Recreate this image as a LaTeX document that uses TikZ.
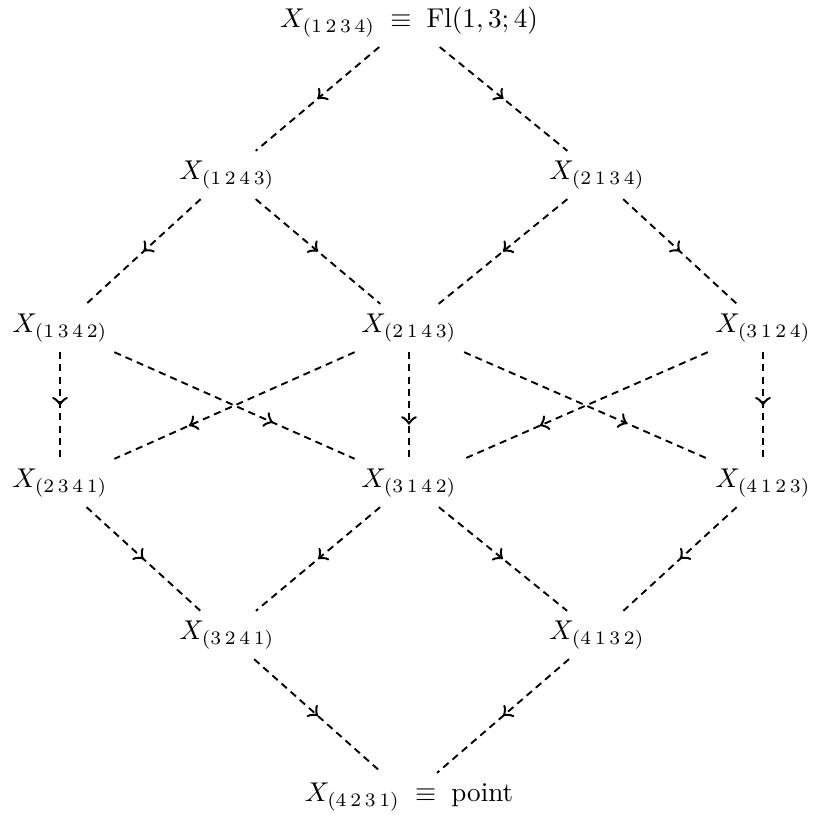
\documentclass[tikz,border=0pt]{standalone}
\usepackage{amsmath}
\usepackage{tikz}
\usetikzlibrary{decorations.markings}

\tikzset{
  cell/.style={inner sep=3.5pt},
  downmap/.style={line width=0.7pt, dash pattern=on 2.6pt off 1.9pt,
    postaction={decorate},
    decoration={markings, mark=at position #1 with {\arrow[solid, scale=1.3]{to}}}},
  downmap/.default=0.5
}

\begin{document}
\begin{tikzpicture}[x=0.01294cm, y=-0.01294cm]
  \useasboundingbox (0,0) rectangle (817,821);
  % rows of the poset, top to bottom
  \node[cell] (a1234) at (409,22) {$X_{(1\,2\,3\,4)} \;\equiv\; \mathrm{Fl}(1,3;4)$};
  \node[cell] (a1243) at (227,175) {$X_{(1\,2\,4\,3)}$};
  \node[cell] (a2134) at (597,175) {$X_{(2\,1\,3\,4)}$};
  \node[cell] (a1342) at (60,328) {$X_{(1\,3\,4\,2)}$};
  \node[cell] (a2143) at (409,328) {$X_{(2\,1\,4\,3)}$};
  \node[cell] (a3124) at (763,328) {$X_{(3\,1\,2\,4)}$};
  \node[cell] (a2341) at (60,483) {$X_{(2\,3\,4\,1)}$};
  \node[cell] (a3142) at (409,483) {$X_{(3\,1\,4\,2)}$};
  \node[cell] (a4123) at (763,483) {$X_{(4\,1\,2\,3)}$};
  \node[cell] (a3241) at (227,635) {$X_{(3\,2\,4\,1)}$};
  \node[cell] (a4132) at (597,635) {$X_{(4\,1\,3\,2)}$};
  \node[cell] (a4231) at (409,797) {$X_{(4\,2\,3\,1)} \;\equiv\; \text{point}$};

  % edges: source/target/position of the arrow tip
  \foreach \s/\t/\p in {a1234/a1243/0.5, a1234/a2134/0.5,
                        a1243/a1342/0.5, a1243/a2143/0.5,
                        a2134/a2143/0.5, a2134/a3124/0.5,
                        a1342/a2341/0.5, a1342/a3142/0.66,
                        a2143/a2341/0.69, a2143/a3142/0.68,
                        a2143/a4123/0.67, a3124/a3142/0.69,
                        a3124/a4123/0.5,
                        a2341/a3241/0.5, a3142/a3241/0.5,
                        a3142/a4132/0.5, a4123/a4132/0.5,
                        a3241/a4231/0.5, a4132/a4231/0.5}
    \draw[downmap=\p] (\s) -- (\t);
\end{tikzpicture}
\end{document}
